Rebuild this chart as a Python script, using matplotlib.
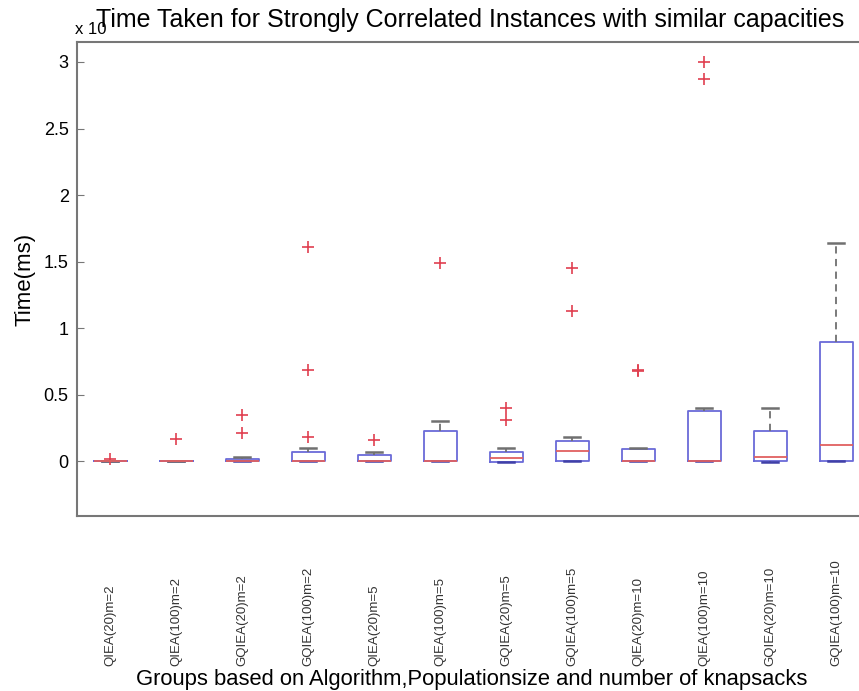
import matplotlib.pyplot as plt

plt.rcParams['font.family'] = ['Liberation Sans', 'DejaVu Sans']

groups = ['QIEA(20)m=2', 'QIEA(100)m=2', 'GQIEA(20)m=2', 'GQIEA(100)m=2',
          'QIEA(20)m=5', 'QIEA(100)m=5', 'GQIEA(20)m=5', 'GQIEA(100)m=5',
          'QIEA(20)m=10', 'QIEA(100)m=10', 'GQIEA(20)m=10', 'GQIEA(100)m=10']

# box statistics (units of 1e4 ms)
whislo = [0, 0, 0, 0, 0, 0, -0.005, 0, 0, 0, -0.008, 0]
q1 = [0, 0, 0, 0, 0, 0, -0.005, 0, 0, 0, 0, 0]
med = [0, 0, 0.003, 0.003, 0.005, 0.002, 0.025, 0.075, 0.005, 0.005, 0.03, 0.125]
q3 = [0.005, 0.002, 0.015, 0.07, 0.05, 0.23, 0.07, 0.15, 0.095, 0.38, 0.225, 0.895]
whishi = [0.005, 0.002, 0.03, 0.1, 0.07, 0.30, 0.10, 0.18, 0.10, 0.40, 0.40, 1.64]
fliers = [[0.02], [0.17], [0.21, 0.35], [0.18, 0.69, 1.61], [0.16], [1.49],
          [0.31, 0.40], [1.13, 1.45], [0.68, 0.69], [2.87, 3.0], [], []]

stats = []
for i, g in enumerate(groups):
    stats.append(dict(label=g, whislo=whislo[i], q1=q1[i], med=med[i],
                      q3=q3[i], whishi=whishi[i], fliers=fliers[i]))

fig = plt.figure(figsize=(8.59, 6.91), dpi=100)
ax = fig.add_axes([77 / 859, 1 - 516 / 691, 792 / 859, (516 - 42) / 691])

res = ax.bxp(stats, widths=0.5,
             boxprops=dict(color='#6a6ad8', linewidth=1.3),
             medianprops=dict(color='#e06060', linewidth=1.3),
             whiskerprops=dict(color='#707070', linestyle=(0, (4, 3)), linewidth=1.3),
             capprops=dict(color='#707070', linewidth=1.8),
             flierprops=dict(marker='+', markeredgecolor='#e04050', markersize=9,
                             markeredgewidth=1.2),
             capwidths=0.25)
# lower caps sit on the box bottom in the original, so they read as blue
for cap in res['caps'][0::2]:
    cap.set_color('#4040a8')

ax.set_xlim(0.5, 12.5)
ax.set_ylim(-0.41, 3.15)
ax.set_yticks([0, 0.5, 1, 1.5, 2, 2.5, 3])
ax.set_yticklabels(['0', '0.5', '1', '1.5', '2', '2.5', '3'], fontsize=13)
ax.tick_params(axis='y', direction='in', length=5, color='#777777', pad=6)
ax.tick_params(axis='x', length=0, pad=108, labelsize=9.5)
ax.set_xticklabels(groups, rotation=90)
for lab in ax.get_xticklabels():
    lab.set_va('bottom')
    lab.set_color('#333333')

for s in ax.spines.values():
    s.set_color('#777777')
    s.set_linewidth(1.5)

ax.set_ylabel('Time(ms)', fontsize=16, labelpad=6)
fig.text(75 / 859, 1 - 30 / 691, 'x 10', ha='left', va='center', fontsize=12)
fig.text(470 / 859, 1 - 20 / 691, 'Time Taken for Strongly Correlated Instances with similar capacities',
         ha='center', va='center', fontsize=18)
fig.text(472 / 859, 1 - 679 / 691, 'Groups based on Algorithm,Populationsize and number of knapsacks',
         ha='center', va='center', fontsize=15.8)

fig.savefig('out.png', dpi=100)
